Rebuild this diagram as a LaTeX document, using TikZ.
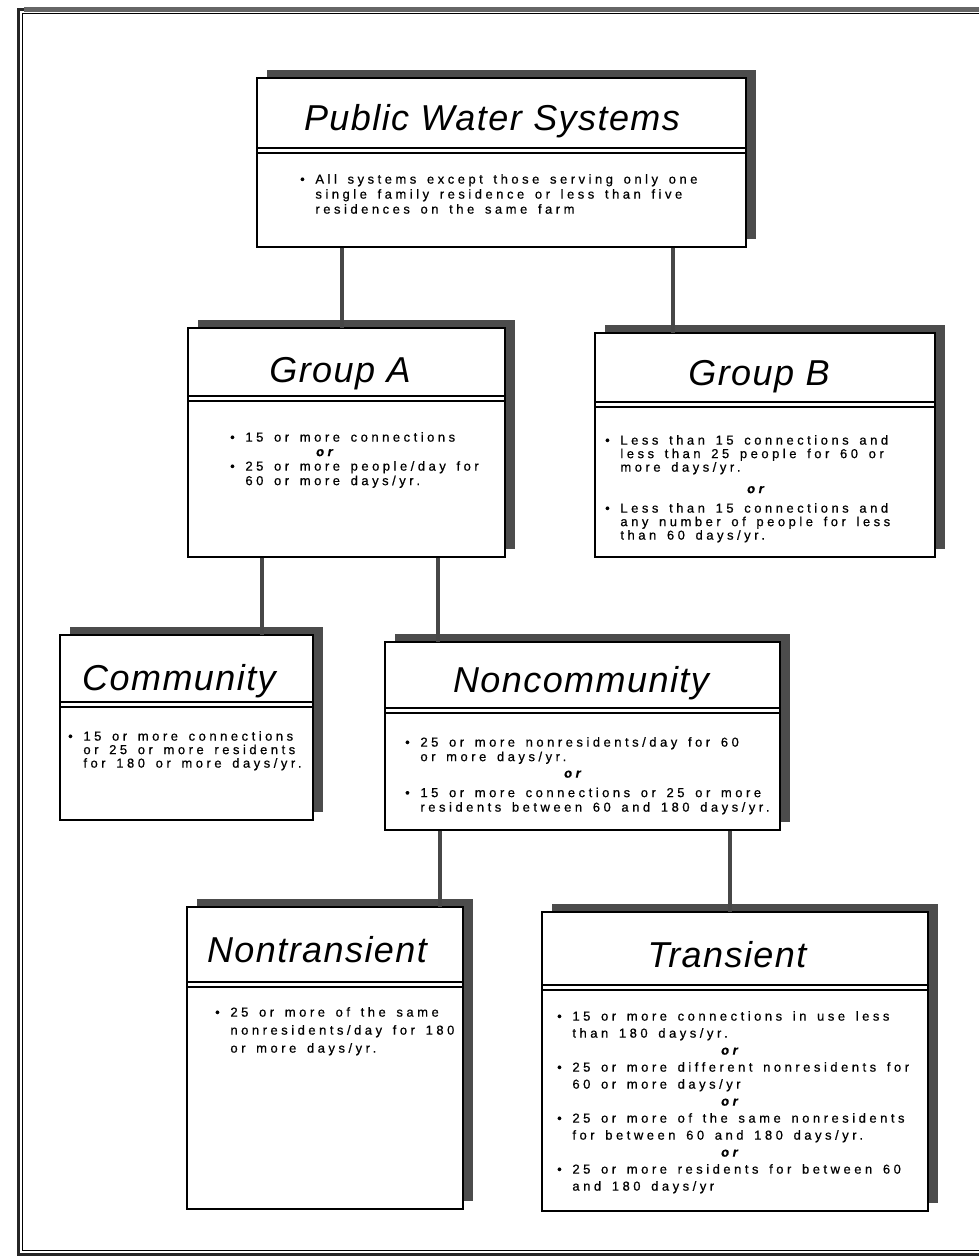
\documentclass[tikz,border=0pt]{standalone}
\usepackage{fontspec}
\usetikzlibrary{shadows}
\setmainfont{Liberation Sans}
\newfontfamily\titlefont[LetterSpace=4]{Liberation Sans}
\newfontfamily\bodyfont[LetterSpace=27,WordSpace=1.5,FakeBold=0.6]{Liberation Sans}
\newcommand\bl{\textbullet\ }
\newcommand\ind{\hphantom{\textbullet\ }}
\newcommand\orw{{\bfseries\itshape or}}
\begin{document}
\begin{tikzpicture}[x=1pt,y=-1pt,
  box/.style={draw=black, line width=1.4pt, fill=white, inner sep=0pt,
    drop shadow={shadow xshift=10pt, shadow yshift=8pt, fill=black!70, opacity=1}},
  ttl/.style={font=\titlefont\itshape\fontsize{36}{40}\selectfont, inner sep=0pt, anchor=base},
  body/.style={align=left, inner sep=0pt, anchor=north west},
  sepline/.style={line width=1.2pt},
  conn/.style={line width=4pt, draw=black!72},
  frameline/.style={draw=black!85}]
\useasboundingbox (0,0) rectangle (979,1259);
% outer frame
\draw[frameline, line width=3pt] (979,9) -- (18,9) -- (18,1254) -- (979,1254);
\draw[line width=5pt, black!60] (24,9) -- (979,9);
\draw[line width=0.9pt] (979,13.5) -- (22.5,13.5) -- (22.5,1250) -- (979,1250);
% boxes
\node[box, minimum width=489pt, minimum height=169pt] (pws) at (501.5,162.5) {};
\node[box, minimum width=317pt, minimum height=229pt] (ga) at (346.5,442.5) {};
\node[box, minimum width=340pt, minimum height=224pt] (gb) at (765,445) {};
\node[box, minimum width=253pt, minimum height=185pt] (com) at (186.5,727.5) {};
\node[box, minimum width=395pt, minimum height=188pt] (nc) at (582.5,736) {};
\node[box, minimum width=276pt, minimum height=302pt] (nt) at (325,1058) {};
\node[box, minimum width=386pt, minimum height=299pt] (tr) at (735,1061.5) {};
% connectors
\draw[conn] (pws.south -| 342,0) -- ([yshift=-1pt]ga.north -| 342,0);
\draw[conn] (pws.south -| 673,0) -- ([yshift=-1pt]gb.north -| 673,0);
\draw[conn] (ga.south -| 262,0) -- ([yshift=-1pt]com.north -| 262,0);
\draw[conn] (ga.south -| 438,0) -- ([yshift=-1pt]nc.north -| 438,0);
\draw[conn] (nc.south -| 440,0) -- ([yshift=-1pt]nt.north -| 440,0);
\draw[conn] (nc.south -| 730,0) -- ([yshift=-1pt]tr.north -| 730,0);
% separators
\foreach \n/\y in {pws/148, ga/396, gb/402, com/702, nc/708, nt/982, tr/985}{
  \draw[sepline] (\n.west |- 0,\y) -- (\n.east |- 0,\y);
  \draw[sepline] (\n.west |- 0,\y+5) -- (\n.east |- 0,\y+5);
}
% titles
\node[ttl] (pwsT) at (492,130) {Public Water Systems};
\node[ttl] (gaT) at (340,382) {Group A};
\node[ttl] (gbT) at (759,385) {Group B};
\node[ttl] (comT) at (179,690) {Community};
\node[ttl] (ncT) at (581,692) {Noncommunity};
\node[ttl] (ntT) at (317,962) {Nontransient};
\node[ttl] (trT) at (727,967) {Transient};
% bodies
\node[body, font=\bodyfont\fontsize{13}{15}\selectfont] (pwsB) at (300,174) {\bl All systems except those serving only one\\ \ind single family residence or less than five\\ \ind residences on the same farm};
\node[body, font=\bodyfont\fontsize{13}{14.5}\selectfont] (gaB) at (230,432) {\bl 15 or more connections\\ \hspace*{86pt}\orw\\ \bl 25 or more people/day for\\ \ind 60 or more days/yr.};
\node[body, font=\bodyfont\fontsize{13}{13.5}\selectfont] (gbB) at (605,435) {\bl Less than 15 connections and\\ \ind less than 25 people for 60 or\\ \ind more days/yr.\\[8pt] \hspace*{142pt}\orw\\[6pt] \bl Less than 15 connections and\\ \ind any number of people for less\\ \ind than 60 days/yr.};
\node[body, font=\bodyfont\fontsize{13}{13.5}\selectfont] (comB) at (68,731) {\bl 15 or more connections\\ \ind or 25 or more residents\\ \ind for 180 or more days/yr.};
\node[body, font=\bodyfont\fontsize{13}{14.5}\selectfont] (ncB) at (405,737) {\bl 25 or more nonresidents/day for 60\\ \ind or more days/yr.\\[2pt] \hspace*{159pt}\orw\\[5pt] \bl 15 or more connections or 25 or more\\ \ind residents between 60 and 180 days/yr.};
\node[body, font=\bodyfont\fontsize{13}{18}\selectfont] (ntB) at (215,1007) {\bl 25 or more of the same\\ \ind nonresidents/day for 180\\ \ind or more days/yr.};
\node[body, font=\bodyfont\fontsize{13}{17}\selectfont] (trB) at (557,1011) {\bl 15 or more connections in use less\\ \ind than 180 days/yr.\\ \hspace*{164pt}\orw\\ \bl 25 or more different nonresidents for\\ \ind 60 or more days/yr\\ \hspace*{164pt}\orw\\ \bl 25 or more of the same nonresidents\\ \ind for between 60 and 180 days/yr.\\ \hspace*{164pt}\orw\\ \bl 25 or more residents for between 60\\ \ind and 180 days/yr};
\end{tikzpicture}
\end{document}
